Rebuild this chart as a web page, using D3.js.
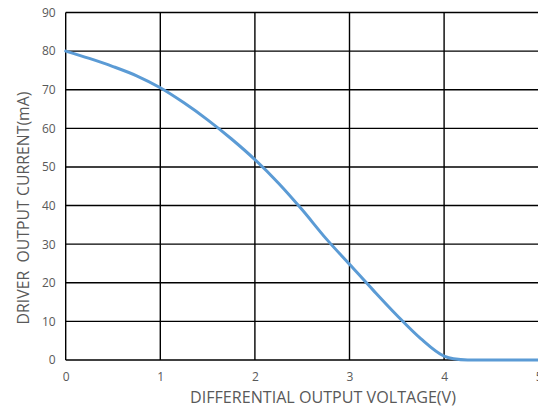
<!DOCTYPE html>
<html><head><meta charset="utf-8">
<script src="https://cdn.jsdelivr.net/npm/d3@7"></script>
<style>html,body{margin:0;padding:0;background:#fff;overflow:hidden}</style>
</head><body>
<svg id="c" width="538" height="411"></svg>
<script>
const voltage = [0, 0.25, 0.5, 0.75, 1, 1.25, 1.5, 1.75, 2, 2.25, 2.5, 2.75, 3, 3.25, 3.5, 3.75, 4, 4.1, 4.25, 4.5, 4.75, 5];
const current = [80, 78.1, 76, 73.6, 70.5, 66.6, 62.2, 57.3, 51.9, 45.8, 38.9, 31.5, 24.8, 18.1, 11.6, 5.6, 1.0, 0.3, 0, 0, 0, 0];
const xTicks = [0, 1, 2, 3, 4, 5];
const yTicks = [0, 10, 20, 30, 40, 50, 60, 70, 80, 90];
const xTitle = "DIFFERENTIAL OUTPUT VOLTAGE(V)";
const yTitle = "DRIVER\u00a0 OUTPUT CURRENT(mA)";

const svg = d3.select("#c");
const font = "'Open Sans', 'Liberation Sans', sans-serif";
const x = d3.scaleLinear().domain([0, 5]).range([65.7, 538.7]);
const y = d3.scaleLinear().domain([0, 90]).range([360, 12.5]);

// grid
const g = svg.append("g");
g.selectAll("line.h").data(yTicks).join("line")
  .attr("x1", x(0)).attr("x2", x(5)).attr("y1", d => y(d)).attr("y2", d => y(d))
  .attr("stroke", "#000").attr("stroke-width", 1.4);
g.selectAll("line.v").data(xTicks).join("line")
  .attr("y1", y(0)).attr("y2", y(90)).attr("x1", d => x(d)).attr("x2", d => x(d))
  .attr("stroke", "#000").attr("stroke-width", 1.4);

// axes labels
const xAxis = d3.axisBottom(x).tickValues(xTicks).tickSize(0).tickPadding(12).tickFormat(d3.format("d"));
const ax = svg.append("g").attr("transform", `translate(0,${y(0)})`).call(xAxis);
ax.select(".domain").remove();
ax.selectAll("text").attr("fill", "#595959").style("font-family", font).style("font-size", "12px");

const yAxis = d3.axisLeft(y).tickValues(yTicks).tickSize(0).tickPadding(10).tickFormat(d3.format("d"));
const ay = svg.append("g").attr("transform", `translate(${x(0)},0)`).call(yAxis);
ay.select(".domain").remove();
ay.selectAll("text").attr("fill", "#595959").style("font-family", font).style("font-size", "12px");

// curve
const data = voltage.map((v, i) => [v, current[i]]);
svg.append("path").datum(data)
  .attr("fill", "none").attr("stroke", "#5B9BD5").attr("stroke-width", 3)
  .attr("stroke-linecap", "round")
  .attr("d", d3.line().x(d => x(d[0])).y(d => y(d[1])).curve(d3.curveMonotoneX));

// titles (fit widths)
function fit(t, w) {
  let fs = 14; t.style("font-size", fs + "px");
  const len = t.node().getComputedTextLength();
  fs = fs * w / len; t.style("font-size", fs + "px");
}
const xt = svg.append("text").attr("x", 323).attr("y", 403).attr("text-anchor", "middle")
  .attr("fill", "#595959").style("font-family", font).text(xTitle);
fit(xt, 266);
const yt = svg.append("text").attr("transform", "translate(29,208) rotate(-90)").attr("text-anchor", "middle")
  .attr("fill", "#595959").style("font-family", font).text(yTitle);
fit(yt, 233);
</script>
</body></html>
